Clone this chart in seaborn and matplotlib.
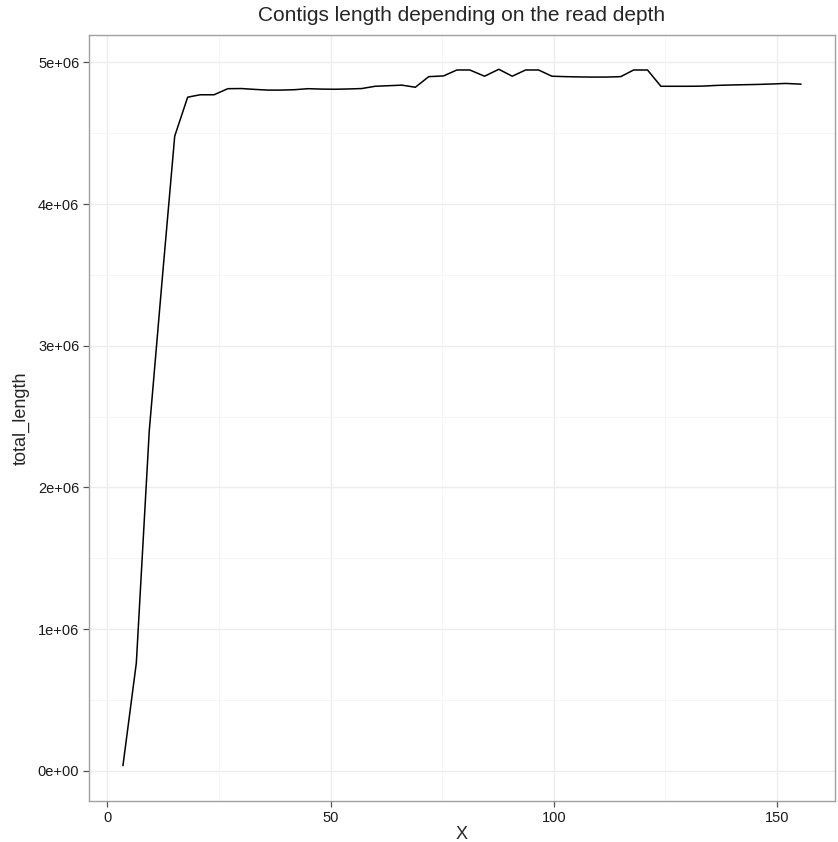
import matplotlib
matplotlib.use("Agg")
import matplotlib.pyplot as plt
import seaborn as sns
import pandas as pd
from matplotlib.ticker import FuncFormatter, MultipleLocator

# read depth (x) and total contig length
depth = [3.5, 6.5, 9.4, 12.3, 15.1, 18.0, 20.8, 23.9, 27.0, 30.0,
         33.0, 36.0, 39.0, 42.0, 45.0, 48.0, 51.0, 54.0, 57.0, 60.0,
         63.0, 66.0, 69.0, 72.0, 75.3, 78.3, 81.2, 84.5, 87.7, 90.7,
         93.7, 96.6, 99.6, 102.6, 105.6, 108.6, 111.8, 115.0, 117.9, 121.0,
         124.0, 127.1, 130.2, 133.3, 136.4, 139.5, 142.6, 145.7, 148.8, 151.9,
         155.4]
total_length = [35000, 760000, 2400000, 3470000, 4480000, 4755000, 4772000, 4772000, 4815000, 4816000,
                4810000, 4805000, 4805000, 4808000, 4815000, 4812000, 4811000, 4813000, 4816000, 4832000,
                4836000, 4840000, 4825000, 4900000, 4905000, 4947000, 4947000, 4903000, 4952000, 4903000,
                4947000, 4947000, 4903000, 4900000, 4898000, 4897000, 4897000, 4900000, 4947000, 4947000,
                4832000, 4832000, 4832000, 4833000, 4838000, 4841000, 4843000, 4845000, 4848000, 4852000,
                4847000]

df = pd.DataFrame({"X": depth, "total_length": total_length})

sns.set_style("white")
plt.rcParams["font.family"] = ["Liberation Sans", "DejaVu Sans"]

fig = plt.figure(figsize=(8.38, 8.42), dpi=100)
ax = fig.add_axes([89 / 838, 1 - 801 / 842, (835 - 89) / 838, (801 - 35) / 842])

sns.lineplot(data=df, x="X", y="total_length", color="black", linewidth=1.1, ax=ax)

ax.set_xlim(-4.1, 163.0)
ax.set_ylim(-214000, 5194000)
ax.xaxis.set_major_locator(MultipleLocator(50))
ax.xaxis.set_minor_locator(MultipleLocator(25))
ax.yaxis.set_major_locator(MultipleLocator(1e6))
ax.yaxis.set_minor_locator(MultipleLocator(5e5))
ax.yaxis.set_major_formatter(FuncFormatter(lambda v, p: f"{v:.0e}"))

ax.grid(which="major", color="#ededed", linewidth=1.0)
ax.grid(which="minor", color="#f5f5f5", linewidth=0.6)
ax.set_axisbelow(True)
for s in ax.spines.values():
    s.set_color("#a0a0a0")
    s.set_linewidth(1.0)

ax.tick_params(which="major", length=4, width=0.9, color="#555555",
               labelsize=10.5, labelcolor="#1a1a1a", pad=3, left=True, bottom=True)
ax.tick_params(which="minor", length=0)

ax.set_xlabel("X", fontsize=13, labelpad=1)
ax.set_ylabel("total_length", fontsize=13, labelpad=6)
ax.set_title("Contigs length depending on the read depth", fontsize=15, pad=10)

fig.savefig("out.png", dpi=100)
